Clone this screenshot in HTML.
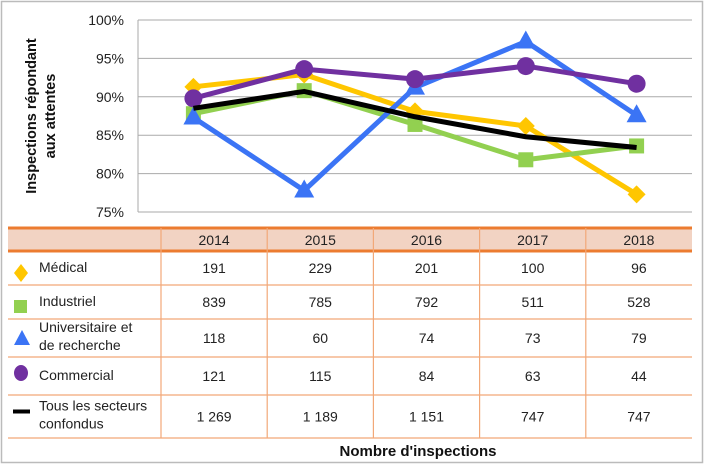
<!DOCTYPE html>
<html><head><meta charset="utf-8"><style>
body{margin:0;background:#fff;font-family:"Liberation Sans",sans-serif;}
#wrap{position:relative;width:705px;height:465px;overflow:hidden;}
svg text{font-family:"Liberation Sans",sans-serif;}
</style></head><body>
<div id="wrap">
<svg id="svg" width="705" height="465" xmlns="http://www.w3.org/2000/svg">
<rect x="1.5" y="1.5" width="701" height="461" fill="#fff" stroke="#bbb" stroke-width="1.5"/>
<g id="grid"></g>
<g id="yt"></g>
<text transform="translate(36,116) rotate(-90)" text-anchor="middle" font-size="14.5" font-weight="bold" fill="#111"><tspan x="0" dy="0">Inspections répondant</tspan><tspan x="0" dy="19">aux attentes</tspan></text>
<g id="series"></g>
<g id="table"></g>
<text x="418" y="456" text-anchor="middle" font-size="15" font-weight="bold" fill="#111">Nombre d'inspections</text>
</svg>
</div>
<script>
const categories=["2014","2015","2016","2017","2018"];
const yTicks=[75,80,85,90,95,100];
const medical=[91.3,92.9,88.1,86.2,77.3];
const industriel=[87.8,90.8,86.4,81.8,83.6];
const universitaire=[87.3,77.8,91.2,97.2,87.6];
const commercial=[89.8,93.6,92.3,94.0,91.7];
const tous=[88.5,90.7,87.4,84.8,83.4];
const countMedical=["191","229","201","100","96"];
const countIndustriel=["839","785","792","511","528"];
const countUniversitaire=["118","60","74","73","79"];
const countCommercial=["121","115","84","63","44"];
const countTous=["1 269","1 189","1 151","747","747"];

const NS="http://www.w3.org/2000/svg";
const X0=138,X1=692,Y0=212,Y1=20,YMIN=75,YMAX=100;
const bw=(X1-X0)/categories.length;
const xs=i=>X0+bw*(i+0.5);
const ys=v=>Y0-(v-YMIN)/(YMAX-YMIN)*(Y0-Y1);
function mk(t,a,p){const e=document.createElementNS(NS,t);for(const k in a)e.setAttribute(k,a[k]);p.appendChild(e);return e;}
const grid=document.getElementById('grid'),yt=document.getElementById('yt');
yTicks.forEach(v=>{
  const l=mk('line',{x1:X0,x2:X1,y1:ys(v),y2:ys(v),stroke:'#aaa','stroke-width':1},grid);
  
  
  const t=mk('text',{x:X0-14,y:ys(v)+5,'text-anchor':'end','font-size':14,fill:'#222'},yt);
  t.textContent=v+'%';
  
  
});
mk('line',{x1:X0,x2:X0,y1:Y1,y2:Y0,stroke:'#aaa'},grid);
const sg=document.getElementById('series');
function marker(type,x,y,c,g){
  let e;
  if(type==='diamond')e=mk('polygon',{points:`${x},${y-9} ${x+9},${y} ${x},${y+9} ${x-9},${y}`,fill:c},g);
  else if(type==='square')e=mk('rect',{x:x-7.5,y:y-7.5,width:15,height:15,fill:c},g);
  else if(type==='triangle')e=mk('polygon',{points:`${x},${y-11} ${x+10},${y+7} ${x-10},${y+7}`,fill:c},g);
  else if(type==='circle')e=mk('circle',{cx:x,cy:y,r:9,fill:c},g);
  return e;
}
const series=[
 {name:'medical',vals:medical,c:'#ffc600',m:'diamond',w:5},
 {name:'industriel',vals:industriel,c:'#92d050',m:'square',w:5},
 {name:'universitaire',vals:universitaire,c:'#3b74f5',m:'triangle',w:5},
 {name:'commercial',vals:commercial,c:'#7030a0',m:'circle',w:5},
 {name:'tous',vals:tous,c:'#000',m:null,w:5}
];
series.forEach(s=>{
  const g=mk('g',{},sg);
  
  
  const p=mk('polyline',{points:s.vals.map((v,i)=>xs(i)+','+ys(v)).join(' '),fill:'none',stroke:s.c,'stroke-width':s.w,'stroke-linejoin':'round'},g);
  
  
  if(s.m)s.vals.forEach((v,i)=>{
    const e=marker(s.m,xs(i),ys(v),s.c,g);
    
    
  });
});
const tb=document.getElementById('table');
const OR='#ec7c30';
const TL=8,TR=692,C0=161;
const cw=(TR-C0)/categories.length;
mk('rect',{x:TL,y:228,width:TR-TL,height:23,fill:'#f2d3c3'},tb);
const rowsY=[251,285,319,357,395,438];
const rows=[
 {label:['Médical'],vals:countMedical,m:'diamond',c:'#ffc600'},
 {label:['Industriel'],vals:countIndustriel,m:'square',c:'#92d050'},
 {label:['Universitaire et','de recherche'],vals:countUniversitaire,m:'triangle',c:'#3b74f5'},
 {label:['Commercial'],vals:countCommercial,m:'circle',c:'#7030a0'},
 {label:['Tous les secteurs','confondus'],vals:countTous,m:'dash',c:'#000'}
];
categories.forEach((c,i)=>{
  const t=mk('text',{x:C0+cw*(i+0.5),y:245,'text-anchor':'middle','font-size':14,fill:'#222'},tb);
  t.textContent=c;
  
  
});
rows.forEach((r,ri)=>{
  const ya=rowsY[ri],yb=rowsY[ri+1],ym=(ya+yb)/2;
  const g=mk('g',{},tb);
  
  
  let e;
  if(r.m==='diamond')e=mk('polygon',{points:`21,${ym-4} 28,${ym+5} 21,${ym+14} 14,${ym+5}`,fill:r.c},g);
  else if(r.m==='square')e=mk('rect',{x:14,y:ym-2,width:13,height:13,fill:r.c},g);
  else if(r.m==='triangle')e=mk('polygon',{points:`22,${ym-8} 30,${ym+7} 14,${ym+7}`,fill:r.c},g);
  else if(r.m==='circle')e=mk('ellipse',{cx:21,cy:ym-3,rx:7,ry:8,fill:r.c},g);
  else e=mk('rect',{x:13,y:ym-7,width:17,height:4,fill:r.c},g);
  
  
  const lt=mk('text',{x:39,'font-size':14,fill:'#222'},g);
  
  
  if(r.label.length===1){lt.setAttribute('y',ym+4);lt.textContent=r.label[0];}
  else{
    r.label.forEach((s,k)=>{const sp=mk('tspan',{x:39,dy:k?18:0},lt);sp.textContent=s;});
    lt.setAttribute('y',ym-6);}
  r.vals.forEach((v,i)=>{
    const t=mk('text',{x:C0+cw*(i+0.5),y:ym+5,'text-anchor':'middle','font-size':14,fill:'#222'},g);
    t.textContent=v;
    
    
  });
  mk('line',{x1:TL,x2:TR,y1:yb,y2:yb,stroke:'#f2a878','stroke-width':1.2},g);
});
mk('line',{x1:TL,x2:TR,y1:228,y2:228,stroke:OR,'stroke-width':3},tb);
mk('line',{x1:TL,x2:TR,y1:251,y2:251,stroke:OR,'stroke-width':3},tb);
for(let i=0;i<categories.length;i++){
  mk('line',{x1:C0+cw*i,x2:C0+cw*i,y1:228,y2:438,stroke:'#f2a878','stroke-width':1.2},tb);
}
</script>
</body></html>
